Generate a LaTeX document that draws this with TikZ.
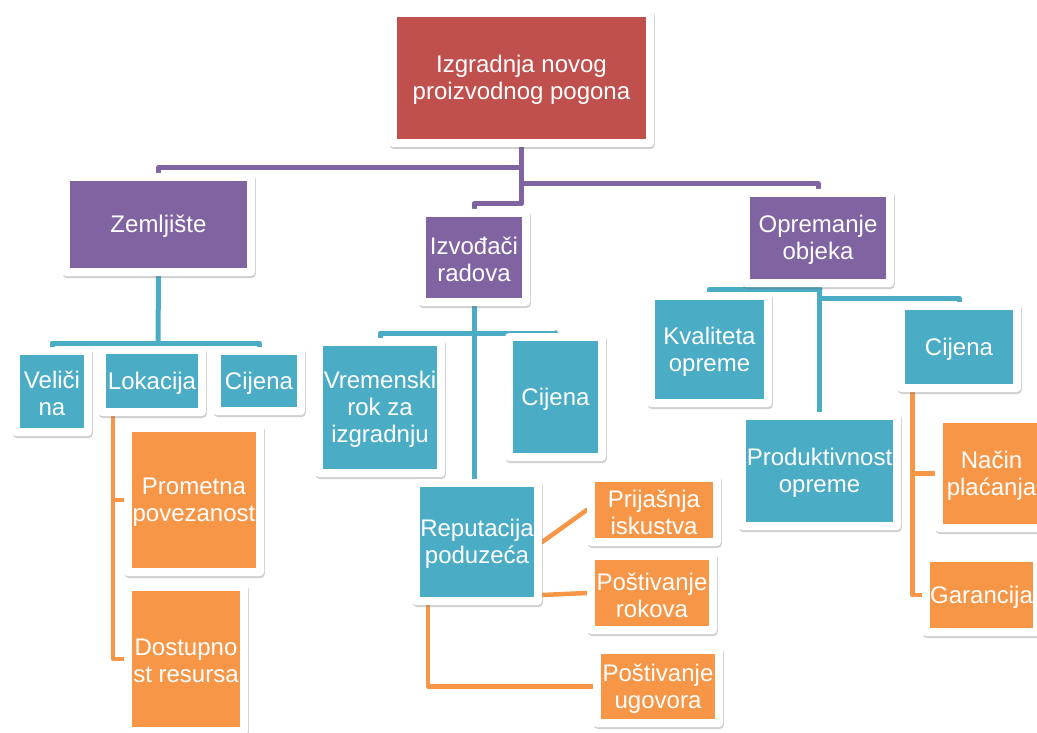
\documentclass[tikz,border=0pt]{standalone}
\usepackage{fontspec}
\setmainfont{Liberation Sans}
\usetikzlibrary{shadows}
\definecolor{cred}{HTML}{C0504D}
\definecolor{cpur}{HTML}{8064A2}
\definecolor{cteal}{HTML}{4BACC6}
\definecolor{corg}{HTML}{F79646}
\pgfdeclarelayer{paper}
\pgfdeclarelayer{background}
\pgfsetlayers{paper,background,main}
\tikzset{
  frame/.style={draw=none, fill=white, rounded corners=4pt, inner sep=0pt,
    drop shadow={shadow xshift=0.8pt, shadow yshift=-2pt, opacity=0.3, fill=black!60}},
  inbox/.style={draw=none, inner sep=0pt},
  txt/.style={inner sep=0pt, text=white, align=center,
    font=\fontsize{24}{27}\selectfont},
  pline/.style={draw=cpur, line width=5pt, line cap=round, line join=round},
  tline/.style={draw=cteal, line width=5pt, line cap=round, line join=round},
  oline/.style={draw=corg, line width=4.5pt, line cap=round, line join=round},
}
\newcommand\mybox[7]{%
  \node[frame, minimum width={(#4-#2+16)*1pt}, minimum height={(#5-#3+16)*1pt}] (#1) at ({(#2+#4)/2},{(#3+#5)/2}) {};
  \node[inbox, fill=#6, minimum width={(#4-#2)*1pt}, minimum height={(#5-#3)*1pt}] (#1-in) at (#1.center) {};
  \node[txt] (#1-t) at ([yshift=-2pt]#1.center) {#7};
}
\begin{document}
\begin{tikzpicture}[x=1pt,y=-1pt]
\path[use as bounding box, clip] (0,0) rectangle (1037,733);
\begin{pgfonlayer}{paper}
\fill[white] (0,0) rectangle (1037,733);
\end{pgfonlayer}

\mybox{root}{397}{17}{646}{139}{cred}{Izgradnja novog\\proizvodnog pogona}
\mybox{zem}{70}{181}{247}{268}{cpur}{Zemljište}
\mybox{izv}{426}{217}{522}{298}{cpur}{Izvođači\\radova}
\mybox{opr}{750}{197}{886}{279}{cpur}{Opremanje\\objeka}
\mybox{vel}{20}{355}{84}{428}{cteal}{Veliči\\na}
\mybox{lok}{106}{354}{198}{408}{cteal}{Lokacija}
\mybox{cija}{221}{355}{297}{407}{cteal}{Cijena}
\mybox{pro}{132}{432}{256}{568}{corg}{Prometna\\povezanost}
\mybox{dos}{132}{591}{240}{727}{corg}{Dostupno\\st resursa}
\mybox{vrem}{323}{346}{437}{469}{cteal}{Vremenski\\rok za\\izgradnju}
\mybox{cijb}{513}{341}{598}{453}{cteal}{Cijena}
\mybox{rep}{420}{487}{534}{597}{cteal}{Reputacija\\poduzeća}
\mybox{prij}{595}{482}{713}{538}{corg}{Prijašnja\\iskustva}
\mybox{rok}{595}{560}{709}{626}{corg}{Poštivanje\\rokova}
\mybox{ugo}{601}{654}{715}{719}{corg}{Poštivanje\\ugovora}
\mybox{kval}{655}{300}{764}{399}{cteal}{Kvaliteta\\opreme}
\mybox{cijc}{905}{310}{1013}{384}{cteal}{Cijena}
\mybox{prod}{746}{420}{893}{522}{cteal}{Produktivnost\\opreme}
\mybox{nac}{943}{423}{1040}{524}{corg}{Način\\plaćanja}
\mybox{gar}{930}{562}{1033}{628}{corg}{Garancija}

\coordinate (zb) at (158,343);
\coordinate (ib) at (474,333);
\coordinate (oba) at (820,289);
\coordinate (obb) at (820,298);

\begin{pgfonlayer}{background}
% purple
\draw[pline] (root.south) |- ([yshift=5pt]zem.north) -- (zem.north);
\draw[pline] (root.south) |- ([yshift=5pt]izv.north) -- (izv.north);
\draw[pline] (root.south) |- ([yshift=5pt]opr.north) -- (opr.north);
% teal
\draw[tline] (zem.south) -- (zb);
\draw[tline] (vel.north) |- (zb);
\draw[tline] (lok.north) |- (zb);
\draw[tline] (cija.north) |- (zb);
\draw[tline] (izv.south) -- (izv.south |- rep.north);
\draw[tline] (vrem.north) |- (ib);
\draw[tline] (cijb.north) |- (ib);
\draw[tline] (prod.north |- opr.south) -- (prod.north);
\draw[tline] (kval.north) |- (oba);
\draw[tline] (cijc.north) |- (obb);
% orange
\draw[oline] ([xshift=-39pt]lok.south) |- (pro.west);
\draw[oline] ([xshift=-39pt]lok.south) |- (dos.west);
\draw[oline] (rep.east) -- (prij.west);
\draw[oline] ([yshift=-53pt]rep.east) -- (rok.west);
\draw[oline] ([xshift=-49pt]rep.south) |- (ugo.west);
\draw[oline] ([xshift=-46.5pt]cijc.south) |- (nac.west);
\draw[oline] ([xshift=-46.5pt]cijc.south) |- (gar.west);
\end{pgfonlayer}
\end{tikzpicture}
\end{document}
